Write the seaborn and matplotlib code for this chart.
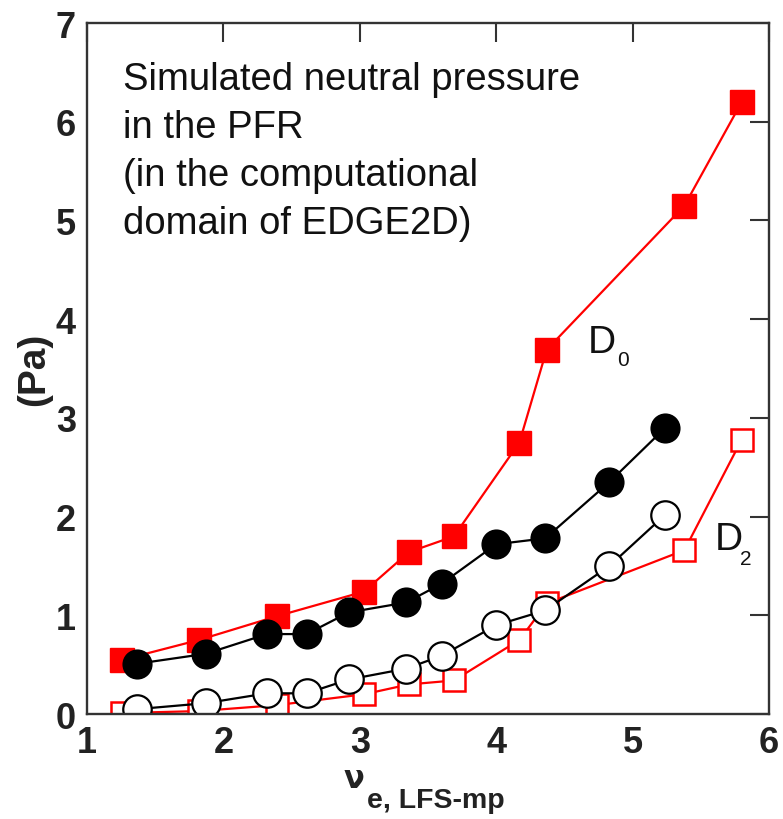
import matplotlib
matplotlib.use('Agg')
import matplotlib.pyplot as plt
import seaborn as sns

# data
x_sq = [1.26, 1.82, 2.39, 3.03, 3.36, 3.69, 4.17, 4.37, 5.38, 5.80]
d0_sim = [0.55, 0.75, 0.99, 1.24, 1.64, 1.80, 2.75, 3.69, 5.15, 6.20]
d2_sim = [0.01, 0.03, 0.09, 0.20, 0.30, 0.34, 0.75, 1.12, 1.66, 2.78]

x_ci = [1.37, 1.87, 2.32, 2.61, 2.92, 3.34, 3.60, 4.00, 4.36, 4.83, 5.24]
d0_ci = [0.51, 0.61, 0.81, 0.81, 1.03, 1.13, 1.32, 1.72, 1.78, 2.35, 2.90]
d2_ci = [0.05, 0.11, 0.21, 0.21, 0.35, 0.46, 0.59, 0.90, 1.05, 1.50, 2.02]

x_ticks = [1, 2, 3, 4, 5, 6]
y_ticks = [0, 1, 2, 3, 4, 5, 6, 7]

sns.set_style('white')
plt.rcParams['font.family'] = ['Liberation Sans', 'DejaVu Sans']

fig = plt.figure(figsize=(7.83, 8.2), dpi=100)
ax = fig.add_axes([0.1111, 0.128, 0.871, 0.8427])

red = '#ff0000'
# red squares first so the circles sit on top
sns.lineplot(x=x_sq, y=d2_sim, ax=ax, sort=False, color=red, lw=1.6,
             marker='s', markersize=16.5, markerfacecolor='white',
             markeredgecolor=red, markeredgewidth=1.8)
sns.lineplot(x=x_sq, y=d0_sim, ax=ax, sort=False, color=red, lw=1.6,
             marker='s', markersize=17, markerfacecolor=red,
             markeredgecolor=red, markeredgewidth=1.0)
sns.lineplot(x=x_ci, y=d2_ci, ax=ax, sort=False, color='black', lw=1.6,
             marker='o', markersize=20.5, markerfacecolor='white',
             markeredgecolor='black', markeredgewidth=1.6)
sns.lineplot(x=x_ci, y=d0_ci, ax=ax, sort=False, color='black', lw=1.6,
             marker='o', markersize=20.5, markerfacecolor='black',
             markeredgecolor='black', markeredgewidth=1.2)

ax.set_xlim(1, 6)
ax.set_ylim(0, 7)
ax.set_xticks(x_ticks)
ax.set_yticks(y_ticks)
ax.tick_params(direction='in', length=14, width=1.5, color='#333333',
               top=True, right=True, labelsize=26, pad=8,
               labelcolor='#222222')
for lab in ax.get_xticklabels() + ax.get_yticklabels():
    lab.set_fontweight('bold')
for sp in ax.spines.values():
    sp.set_color('#333333')
    sp.set_linewidth(1.7)

# annotation, baseline of the last line
ax.text(1.264, 4.87, 'Simulated neutral pressure\nin the PFR\n(in the computational\ndomain of EDGE2D)',
        ha='left', va='baseline', fontsize=27.5, linespacing=1.43, color='#111111')

ax.text(4.67, 3.67, 'D', fontsize=28, va='baseline', color='#111111')
ax.text(4.885, 3.54, '0', fontsize=15, va='baseline', color='#111111')
ax.text(5.60, 1.675, 'D', fontsize=28, va='baseline', color='#111111')
ax.text(5.79, 1.52, '2', fontsize=15, va='baseline', color='#111111')

ax.set_ylabel('(Pa)', fontsize=28, fontweight='bold', color='#222222')
ax.yaxis.set_label_coords(-0.051, 0.5)
ax.set_xlabel('')
fig.text(0.452, 0.039, 'ν', fontsize=22, fontweight='bold', ha='center',
         va='baseline', color='#222222', family=['DejaVu Sans'])
fig.text(0.469, 0.0146, 'e, LFS-mp', fontsize=20.5, fontweight='bold', ha='left',
         va='baseline', color='#222222')

fig.savefig('out.png', dpi=100)
